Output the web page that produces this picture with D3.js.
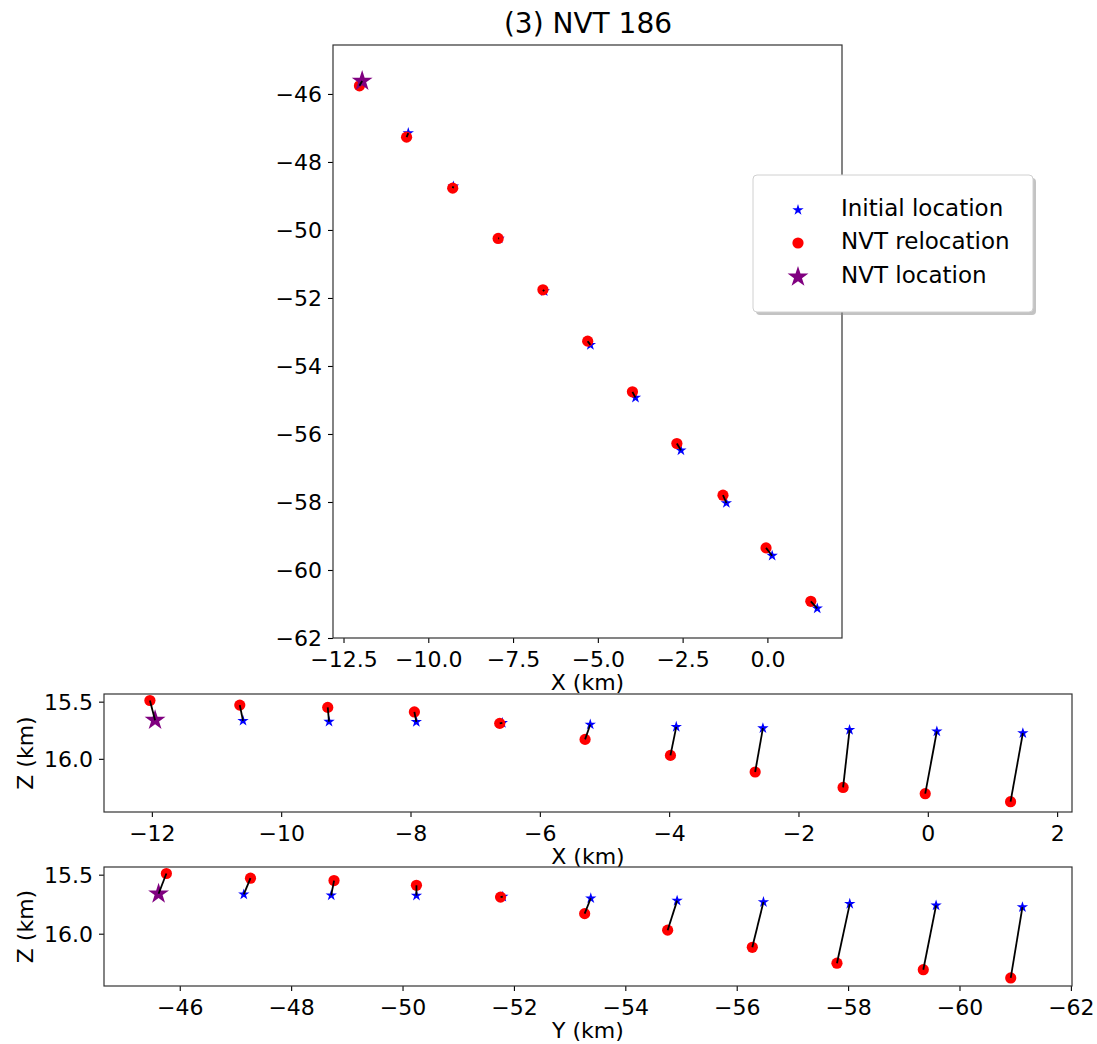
<!DOCTYPE html>
<html>
<head>
<meta charset="utf-8">
<script src="https://cdn.jsdelivr.net/npm/d3@7"></script>
<style>
  html, body { margin: 0; padding: 0; background: #fff; }
  svg { display: block; font-family: "DejaVu Sans", sans-serif; }
  .tick text { font-family: "DejaVu Sans", sans-serif; fill: #000; }
</style>
</head>
<body>
<svg id="chart" width="1097" height="1044"></svg>
<script>
// ---- Data (km) ----
const titleText = "(3) NVT 186";
const xInit  = [-11.95, -10.59, -9.26, -7.91, -6.58, -5.22, -3.89, -2.55, -1.21, 0.14, 1.47];
const yInit  = [-45.62, -47.15, -48.72, -50.25, -51.80, -53.38, -54.93, -56.48, -58.03, -59.58, -61.13];
const zInit  = [15.662, 15.667, 15.675, 15.677, 15.686, 15.700, 15.720, 15.732, 15.747, 15.760, 15.775];
const xReloc = [-12.03, -10.64, -9.28, -7.94, -6.62, -5.30, -3.98, -2.67, -1.31, -0.04, 1.28];
const yReloc = [-45.76, -47.27, -48.77, -50.25, -51.76, -53.27, -54.76, -56.28, -57.80, -59.35, -60.92];
const zReloc = [15.490, 15.530, 15.550, 15.590, 15.690, 15.830, 15.970, 16.115, 16.250, 16.305, 16.375];
const nvtX = [-11.95];
const nvtY = [-45.62];
const nvtZ = [15.662];

const legendLabels = ["Initial location", "NVT relocation", "NVT location"];

// tick values
const topXTicks = [-12.5, -10.0, -7.5, -5.0, -2.5, 0.0];
const topYTicks = [-62, -60, -58, -56, -54, -52, -50, -48, -46];
const midXTicks = [-12, -10, -8, -6, -4, -2, 0, 2];
const zTicks = [15.5, 16.0];
const botYTicks = [-46, -48, -50, -52, -54, -56, -58, -60, -62];

const minus = s => s.replace(/-/g, "\u2212");

const svg = d3.select("#chart");
const FONT = 22;

const events = xInit.map((_, i) => ({
  xi: xInit[i], yi: yInit[i], zi: zInit[i],
  xr: xReloc[i], yr: yReloc[i], zr: zReloc[i]
}));
const nvt = nvtX.map((_, i) => ({xi: nvtX[i], yi: nvtY[i], zi: nvtZ[i]}));

const starSmall = d3.symbol().type(d3.symbolStar).size(40)();
const starBig = d3.symbol().type(d3.symbolStar).size(135)();

function panel(opts) {
  const {L, R, T, B, xDom, yDom, xTicks, yTicks, xFmt, yFmt, xLabel, yLabel, px, py, ylabelX} = opts;
  const xs = d3.scaleLinear().domain(xDom).range([L, R]);
  const ys = d3.scaleLinear().domain(yDom).range([B, T]);
  const g = svg.append("g");

  const xa = g.append("g").attr("transform", `translate(0,${B})`)
    .call(d3.axisBottom(xs).tickValues(xTicks).tickFormat(d => minus(xFmt(d))).tickSize(5).tickSizeOuter(0).tickPadding(7));
  xa.select(".domain").remove();
  xa.selectAll("line").attr("stroke", "#000").attr("stroke-width", 1.1);
  xa.selectAll("text").attr("font-size", FONT).attr("dy", null).attr("y", 29);

  const ya = g.append("g").attr("transform", `translate(${L},0)`)
    .call(d3.axisLeft(ys).tickValues(yTicks).tickFormat(d => minus(yFmt(d))).tickSize(5).tickSizeOuter(0).tickPadding(6));
  ya.select(".domain").remove();
  ya.selectAll("line").attr("stroke", "#000").attr("stroke-width", 1.1);
  ya.selectAll("text").attr("font-size", FONT).attr("dy", "0.36em").attr("x", -11);

  g.append("rect").attr("x", L).attr("y", T).attr("width", R - L).attr("height", B - T)
    .attr("fill", "none").attr("stroke", "#333").attr("stroke-width", 1.2);

  g.append("text").attr("x", (L + R) / 2).attr("y", B + 52).attr("text-anchor", "middle")
    .attr("font-size", FONT).text(xLabel);
  if (yLabel) {
    g.append("text").attr("transform", `translate(${ylabelX},${(T + B) / 2}) rotate(-90)`)
      .attr("text-anchor", "middle").attr("font-size", FONT).text(yLabel);
  }

  const pg = g.append("g");
  pg.selectAll("path.init").data(events).join("path").attr("class", "init")
    .attr("d", starSmall).attr("fill", "blue")
    .attr("transform", d => `translate(${xs(px(d, "i"))},${ys(py(d, "i"))})`);
  pg.selectAll("circle.reloc").data(events).join("circle").attr("class", "reloc")
    .attr("cx", d => xs(px(d, "r"))).attr("cy", d => ys(py(d, "r"))).attr("r", 5.6).attr("fill", "red");
  pg.selectAll("path.nvt").data(nvt).join("path").attr("class", "nvt")
    .attr("d", starBig).attr("fill", "purple")
    .attr("transform", d => `translate(${xs(px(d, "i"))},${ys(py(d, "i"))})`);
  pg.selectAll("line.conn").data(events).join("line").attr("class", "conn")
    .attr("x1", d => xs(px(d, "r"))).attr("y1", d => ys(py(d, "r")))
    .attr("x2", d => xs(px(d, "i"))).attr("y2", d => ys(py(d, "i")))
    .attr("stroke", "#000").attr("stroke-width", 1.8);
  return {xs, ys};
}

// Top: X vs Y
panel({
  L: 333, R: 842, T: 45, B: 638,
  xDom: [-12.81, 2.20], yDom: [-62, -44.56],
  xTicks: topXTicks, yTicks: topYTicks,
  xFmt: d3.format(".1f"), yFmt: d3.format("d"),
  xLabel: "X (km)", yLabel: null,
  px: (d, k) => d["x" + k], py: (d, k) => d["y" + k]
});

// Middle: X vs Z (Z inverted)
panel({
  L: 104, R: 1072, T: 694, B: 812,
  xDom: [-12.74, 2.23], yDom: [16.465, 15.433],
  xTicks: midXTicks, yTicks: zTicks,
  xFmt: d3.format("d"), yFmt: d3.format(".1f"),
  xLabel: "X (km)", yLabel: "Z (km)", ylabelX: 33,
  px: (d, k) => d["x" + k], py: (d, k) => d["z" + k]
});

// Bottom: Y vs Z (Y reversed, Z inverted)
panel({
  L: 104, R: 1072, T: 867, B: 986,
  xDom: [-44.64, -62.02], yDom: [16.443, 15.435],
  xTicks: botYTicks, yTicks: zTicks,
  xFmt: d3.format("d"), yFmt: d3.format(".1f"),
  xLabel: "Y (km)", yLabel: "Z (km)", ylabelX: 33,
  px: (d, k) => d["y" + k], py: (d, k) => d["z" + k]
});

// Title
svg.append("text").attr("x", 588).attr("y", 33).attr("text-anchor", "middle")
  .attr("font-size", 28).text(titleText);

// Legend
const lg = svg.append("g");
const LX = 753, LY = 175, LW = 280, LH = 137;
lg.append("rect").attr("x", LX + 3).attr("y", LY + 3).attr("width", LW).attr("height", LH)
  .attr("rx", 4).attr("fill", "#888").attr("opacity", 0.5);
lg.append("rect").attr("x", LX).attr("y", LY).attr("width", LW).attr("height", LH)
  .attr("rx", 4).attr("fill", "#fff").attr("stroke", "#d0d0d0").attr("stroke-width", 1);
const rowsY = [210, 243, 277];
lg.append("path").attr("d", starSmall).attr("fill", "blue").attr("transform", `translate(798,${rowsY[0]})`);
lg.append("circle").attr("cx", 798).attr("cy", rowsY[1]).attr("r", 5.6).attr("fill", "red");
lg.append("path").attr("d", starBig).attr("fill", "purple").attr("transform", `translate(798,${rowsY[2]})`);
lg.selectAll("text.lab").data(legendLabels).join("text").attr("class", "lab")
  .attr("x", 841).attr("y", (d, i) => rowsY[i] + 6).attr("font-size", 23).text(d => d);
</script>
</body>
</html>
